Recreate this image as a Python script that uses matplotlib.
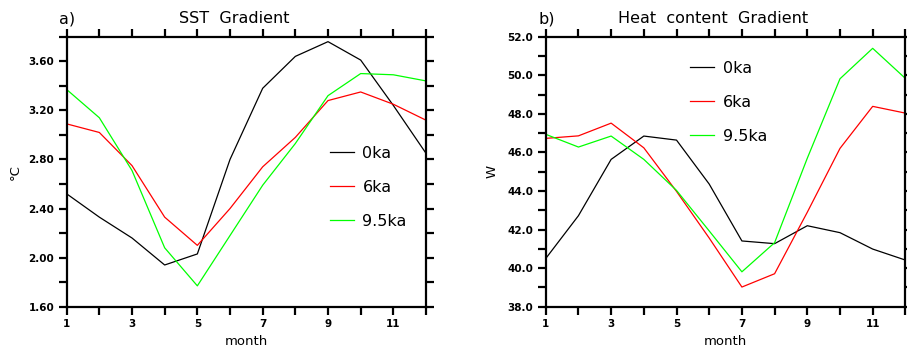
import matplotlib
matplotlib.use("Agg")
import matplotlib.pyplot as plt

months = list(range(1, 13))

# SST gradient (degC)
sst_0ka = [2.52, 2.33, 2.16, 1.94, 2.03, 2.80, 3.38, 3.64, 3.76, 3.61, 3.24, 2.85]
sst_6ka = [3.09, 3.02, 2.75, 2.33, 2.10, 2.40, 2.74, 2.98, 3.28, 3.35, 3.25, 3.12]
sst_95ka = [3.37, 3.14, 2.71, 2.08, 1.77, 2.18, 2.59, 2.93, 3.32, 3.50, 3.49, 3.44]

# heat content gradient (W)
hc_0ka = [40.5, 42.72, 45.64, 46.85, 46.64, 44.36, 41.41, 41.27, 42.2, 41.84, 40.99, 40.42]
hc_6ka = [46.73, 46.86, 47.52, 46.24, 43.98, 41.56, 39.02, 39.71, 42.9, 46.21, 48.39, 48.04]
hc_95ka = [46.94, 46.28, 46.85, 45.64, 44.03, 41.93, 39.81, 41.32, 45.7, 49.82, 51.4, 49.84]

labels = ["0ka", "6ka", "9.5ka"]
colors = ["black", "#ff0000", "#00ff00"]

fig = plt.figure(figsize=(9.07, 3.47), dpi=100)
ax1 = fig.add_axes([0.0735, 0.1161, 0.3962, 0.778])
ax2 = fig.add_axes([0.6017, 0.1161, 0.3965, 0.778])


def style(ax, ylo, yhi, ystep, fmt):
    ax.set_xlim(1, 12)
    ax.set_ylim(ylo, yhi)
    ax.set_xticks(months)
    ax.set_xticklabels([str(m) if m % 2 else "" for m in months])
    n = int(round((yhi - ylo) / ystep))
    yt = [ylo + i * ystep for i in range(n + 1)]
    ax.set_yticks(yt)
    ax.set_yticklabels([fmt % v if i % 2 == 0 else "" for i, v in enumerate(yt)])
    for s in ax.spines.values():
        s.set_linewidth(1.6)
    ax.tick_params(which="major", direction="out", length=6, width=1.6,
                   top=True, right=True, labelsize=7.5, pad=3)
    for t in ax.get_xticklabels() + ax.get_yticklabels():
        t.set_fontweight("bold")
    ax.set_xlabel("month", fontsize=9.5, labelpad=4)


for ax, series in [(ax1, [sst_0ka, sst_6ka, sst_95ka]),
                   (ax2, [hc_0ka, hc_6ka, hc_95ka])]:
    for y, c, lab in zip(series, colors, labels):
        ax.plot(months, y, color=c, linewidth=0.9, label=lab)

style(ax1, 1.6, 3.8, 0.2, "%.2f")
style(ax2, 38.0, 52.0, 1.0, "%.1f")

ax1.set_ylabel("\u00b0C", fontsize=9.5, labelpad=5)
ax2.set_ylabel("W", fontsize=9.5, labelpad=6)

ax1.text(-0.02, 1.05, "a)", transform=ax1.transAxes, fontsize=11.5, ha="left")
ax1.text(0.465, 1.05, "SST  Gradient", transform=ax1.transAxes, fontsize=11.5, ha="center")
ax2.text(-0.02, 1.05, "b)", transform=ax2.transAxes, fontsize=11.5, ha="left")
ax2.text(0.466, 1.05, "Heat  content  Gradient", transform=ax2.transAxes, fontsize=11.5, ha="center")

leg_kw = dict(frameon=False, fontsize=11.5, handlelength=1.5,
              labelspacing=1.2, handletextpad=0.55)
ax1.legend(loc="upper left", bbox_to_anchor=(0.692, 0.65), **leg_kw)
ax2.legend(loc="upper left", bbox_to_anchor=(0.361, 0.965), **leg_kw)

fig.savefig("out.png", dpi=100)
